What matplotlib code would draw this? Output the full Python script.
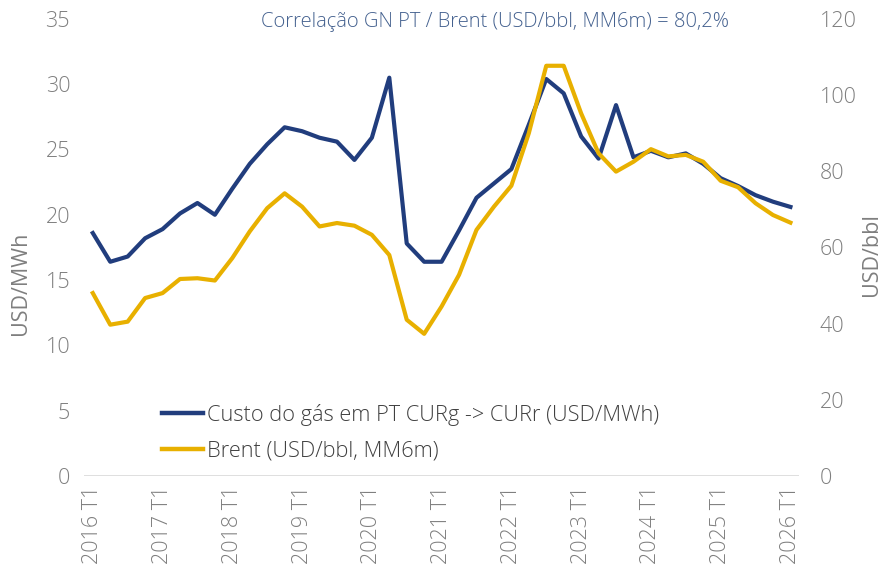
import matplotlib.pyplot as plt
from matplotlib.lines import Line2D

# quarters 2016 T1 .. 2026 T1
quarters = [f'{y} T{q}' for y in range(2016, 2027) for q in range(1, 5)][:41]
tick_labels = [f'{y} T1' for y in range(2016, 2027)]

gas_cost = [18.6, 16.4, 16.8, 18.2, 18.9, 20.1, 20.9, 20.0, 22.0, 23.9,
            25.4, 26.7, 26.4, 25.9, 25.6, 24.2, 25.9, 30.5, 17.8, 16.4,
            16.4, 18.8, 21.3, 22.4, 23.5, 26.9, 30.4, 29.3, 26.0, 24.3,
            28.4, 24.4, 24.9, 24.4, 24.7, 23.9, 22.8, 22.2, 21.5, 21.0,
            20.6]
brent = [48.0, 39.7, 40.5, 46.7, 48.0, 51.7, 51.9, 51.3, 57.2, 64.2,
         70.3, 74.2, 70.7, 65.5, 66.4, 65.7, 63.3, 58.0, 41.0, 37.3,
         44.5, 52.8, 64.6, 70.7, 76.2, 90.0, 107.7, 107.7, 95.2, 84.7,
         79.9, 82.5, 85.8, 83.9, 84.3, 82.5, 77.5, 75.8, 71.6, 68.5,
         66.5]

BLUE = '#213D7D'
GOLD = '#E8B000'
GREY = '#7F7F7F'

plt.rcParams['font.family'] = ['Open Sans', 'DejaVu Sans']
plt.rcParams['font.weight'] = 'light'

fig = plt.figure(figsize=(8.85, 5.74), dpi=100)
ax = fig.add_axes([0.095, 0.171, 0.808, 0.796])
ax2 = ax.twinx()

x = list(range(len(quarters)))
ax.plot(x, gas_cost, color=BLUE, lw=3.0, zorder=3)
ax2.plot(x, brent, color=GOLD, lw=3.0, zorder=2)

ax.set_ylim(0, 35)
ax.set_yticks(range(0, 36, 5))
ax2.set_ylim(0, 120)
ax2.set_yticks(range(0, 121, 20))
ax.set_xlim(-0.5, 40.5)
ax.set_xticks(range(0, 41, 4))
ax.set_xticklabels(tick_labels, rotation=90)

for a in (ax, ax2):
    for s in a.spines.values():
        s.set_visible(False)
    a.tick_params(length=0, colors=GREY, labelsize=15.5)
ax.tick_params(axis='y', pad=10)
ax2.tick_params(axis='y', pad=15)
ax.tick_params(axis='x', pad=7)

ax.axhline(0, color='#D9D9D9', lw=1.2, zorder=1)

ax.set_ylabel('USD/MWh', color=GREY, fontsize=15.5)
ax2.set_ylabel('USD/bbl', color=GREY, fontsize=15.5)
ax.yaxis.set_label_coords(-0.074, 0.422)
ax2.yaxis.set_label_coords(1.086, 0.484)

handles = [Line2D([], [], color=BLUE, lw=3.2),
           Line2D([], [], color=GOLD, lw=3.2)]
labels = ['Custo do gás em PT CURg -> CURr (USD/MWh)', 'Brent (USD/bbl, MM6m)']
leg = ax.legend(handles, labels, loc='upper left', bbox_to_anchor=(0.109, 0.158),
                frameon=False, fontsize=15.7, handlelength=1.9, handletextpad=0.15,
                labelspacing=0.7, borderpad=0, borderaxespad=0)
for t in leg.get_texts():
    t.set_color('#404040')

fig.text(0.559, 0.962, 'Correlação GN PT / Brent (USD/bbl, MM6m) = 80,2%',
         ha='center', va='center', color='#44618F', fontsize=14.5)

fig.savefig('out.png', dpi=100)
